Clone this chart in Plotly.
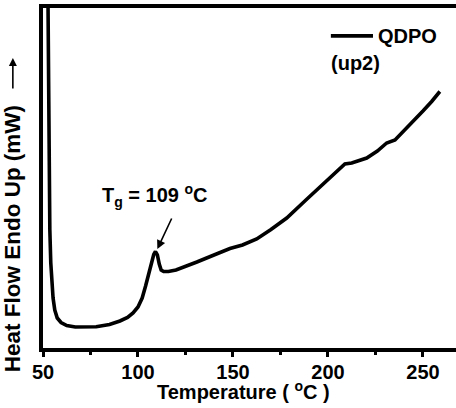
import plotly.graph_objects as go

# DSC second heating scan of QDPO
temperature = [52.4, 52.9, 53.3, 53.6, 54.1, 54.6, 55.3, 56.2, 57.5, 59.5, 62.5, 67, 72, 78,
               85, 90.5, 94.5, 97.4, 100, 102.2, 104, 105.5, 107, 108.3, 109.2, 110.2, 111.2,
               112.2, 113.5, 116, 120, 125, 131, 140, 148.4, 155, 162.5, 170, 178.3, 188.4,
               200, 208.9, 212.5, 216, 220.4, 226, 230.9, 235.3, 240, 244.7, 250, 254.6, 258.9]
heat_flow = [400, 250, 150, 118, 85, 66, 50, 38, 30, 25.5, 22.5, 21, 20.8, 21.3,
             23.5, 27, 30.5, 35, 41, 50, 62, 74, 86, 93.5, 96.5, 93, 84,
             78, 76.5, 76.5, 78, 81.5, 86, 93, 99.5, 103, 109, 118.5, 130, 148,
             168, 184, 185, 187, 190, 197, 205, 208, 217, 226.5, 237, 246.5, 256.5]

x_ticks = [50, 100, 150, 200, 250]
tg_value = 109
tg_peak_temp = 109.2
series_name = "QDPO"
run_label = "(up2)"

FONT = "Liberation Sans"

fig = go.Figure()
fig.add_trace(go.Scatter(
    x=temperature, y=heat_flow, mode="lines",
    line=dict(color="black", width=3.6),
    showlegend=False, hoverinfo="skip",
))

# Tg marker arrow and label
peak_idx = temperature.index(tg_peak_temp)
fig.add_annotation(
    x=110.2, y=heat_flow[peak_idx] + 2.5, xref="x", yref="y",
    ax=15, ay=-32, axref="pixel", ayref="pixel",
    showarrow=True, arrowhead=2, arrowsize=1.1, arrowwidth=1.6,
    arrowcolor="black", standoff=0, text="",
)
fig.add_annotation(
    x=109, y=153, xref="x", yref="y",
    text=f"<b>T<sub>g</sub> = {tg_value} <sup>o</sup>C</b>",
    showarrow=False, xanchor="center", yanchor="middle",
    font=dict(family=FONT, size=20, color="black"),
)

# legend-style key
fig.add_shape(type="line", xref="paper", yref="paper",
              x0=0.697, x1=0.799, y0=0.918, y1=0.918,
              line=dict(color="black", width=3.6))
fig.add_annotation(x=0.806, y=0.918, xref="paper", yref="paper",
                   text=f"<b>{series_name}</b>", showarrow=False,
                   xanchor="left", yanchor="middle",
                   font=dict(family=FONT, size=20, color="black"))
fig.add_annotation(x=0.693, y=0.838, xref="paper", yref="paper",
                   text=f"<b>{run_label}</b>", showarrow=False,
                   xanchor="left", yanchor="middle",
                   font=dict(family=FONT, size=20, color="black"))

# axis titles
fig.add_annotation(x=0.4855, y=-0.125, xref="paper", yref="paper",
                   text="<b>Temperature ( <sup>o</sup>C )</b>", showarrow=False,
                   xanchor="center", yanchor="middle",
                   font=dict(family=FONT, size=20, color="black"))
fig.add_annotation(x=-0.073, y=0.322, xref="paper", yref="paper",
                   text="<b>Heat Flow Endo Up (mW)</b>", showarrow=False,
                   textangle=-90, xanchor="center", yanchor="middle",
                   font=dict(family=FONT, size=22.5, color="black"))
fig.add_annotation(x=-0.073, y=0.853, xref="paper", yref="paper",
                   ax=0, ay=32, axref="pixel", ayref="pixel",
                   showarrow=True, arrowhead=2, arrowsize=1, arrowwidth=1.6,
                   arrowcolor="black", standoff=0, text="")

fig.update_layout(
    width=456, height=408,
    margin=dict(l=43, r=0, t=8, b=60),
    paper_bgcolor="white", plot_bgcolor="white",
    xaxis=dict(
        range=[50, 267.4], tickvals=x_ticks, ticktext=[str(v) for v in x_ticks],
        showline=True, linecolor="black", linewidth=3.6, mirror=True,
        ticks="outside", ticklen=5, tickwidth=3, tickcolor="black",
        ticklabelstandoff=-2,
        minor=dict(dtick=25, tick0=50, ticks="outside", ticklen=3, tickwidth=3, tickcolor="black"),
        showgrid=False, zeroline=False,
        tickfont=dict(family=FONT, size=20, color="black", weight="bold"),
    ),
    yaxis=dict(
        range=[0, 340], showline=True, linecolor="black", linewidth=3.6,
        showticklabels=False, ticks="", showgrid=False, zeroline=False,
    ),
)

fig.write_html("out.html")
